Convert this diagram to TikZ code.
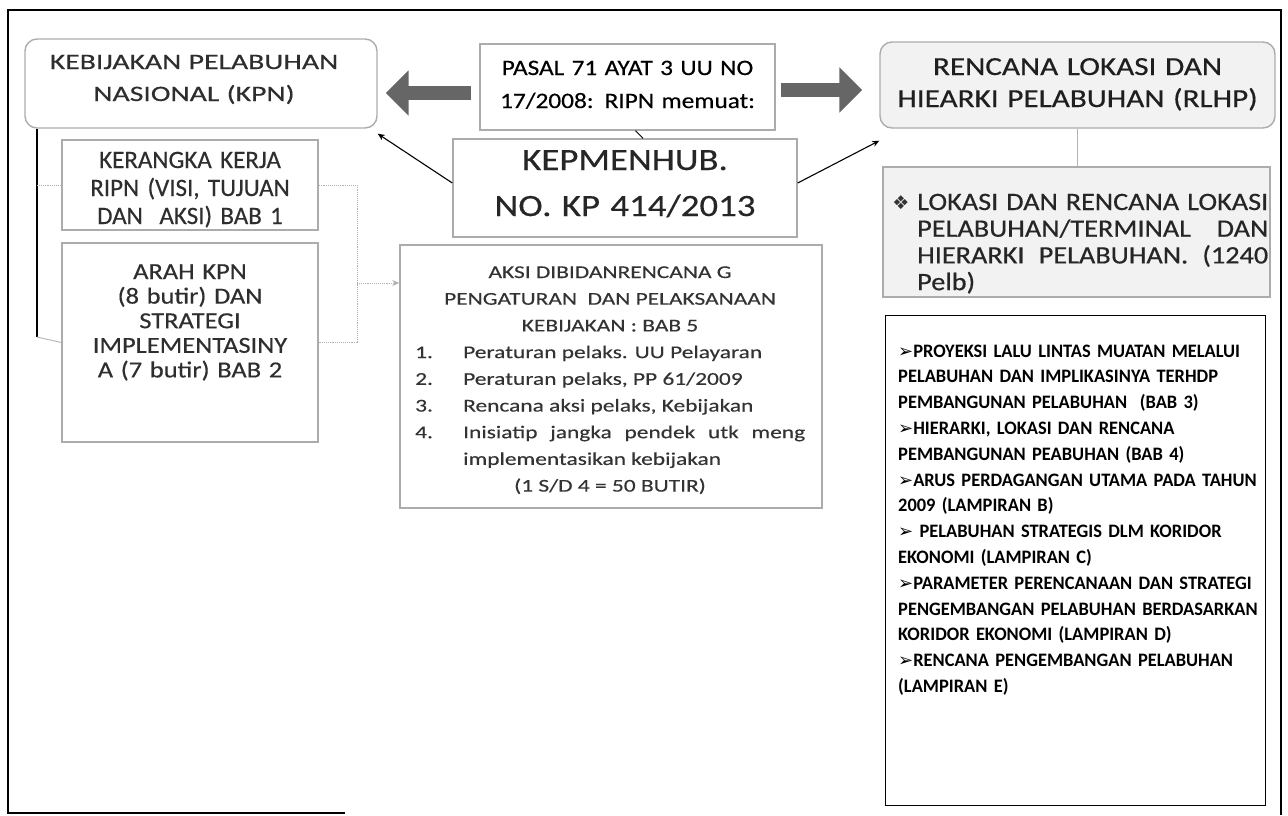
\documentclass[tikz,border=0pt]{standalone}
\usepackage{fontspec}
\setmainfont{Carlito}
\newfontfamily\djv{DejaVu Sans}
\newfontfamily\fKPN[FakeStretch=1.35,FakeBold=0.4]{Carlito}
\newfontfamily\fPAS[FakeStretch=1.15,FakeBold=0.4]{Carlito}
\newfontfamily\fKEP[FakeStretch=1.19,FakeBold=0.4]{Carlito}
\newfontfamily\fKER[FakeStretch=1.0,FakeBold=0.4]{Carlito}
\newfontfamily\fARA[FakeStretch=1.15,FakeBold=0.4]{Carlito}
\newfontfamily\fAKS[FakeStretch=1.3,FakeBold=0.3]{Carlito}
\newfontfamily\fRL[FakeStretch=1.2,FakeBold=0.5]{Carlito}
\newfontfamily\fLOK[FakeStretch=1.13,FakeBold=0.5]{Carlito}
\newfontfamily\fLST[FakeStretch=0.97]{Carlito}
\usetikzlibrary{arrows.meta}
\newcommand{\larr}{{\djv\mdseries\fontsize{18}{18}\selectfont ➢}}
\begin{document}
\begin{tikzpicture}[x=1pt,y=-1pt,
  gbox/.style={draw=gray!65, line width=1.4pt, inner sep=0pt},
  dotbox/.style={gbox, fill=black!5},
  kbox/.style={draw=black, line width=0.9pt, inner sep=0pt},
  txt/.style={inner sep=0pt, align=center, text=black!82},
  aks/.style={inner sep=0pt, text=black!80, font={\fAKS\fontsize{18}{18}\selectfont}},
  lok/.style={inner sep=0pt, text=black!85, font={\fLOK\fontsize{25}{25}\selectfont}},
  blockarrow/.style={line width=14pt, draw=black!60, -{Triangle[length=23pt,width=44pt]}},
  thinarrow/.style={line width=1.1pt, -{Stealth[length=7pt,width=6pt]}},
  greyline/.style={draw=gray!60, line width=0.9pt},
  dotline/.style={draw=gray!60, line width=0.9pt, densely dotted}
]
\useasboundingbox (0,0) rectangle (1288,815);
% outer frame
\draw[line width=1.5pt] (345,813) -- (8,813) -- (8,10) -- (1281,10) -- (1281,815);

% boxes
\node[gbox, rounded corners=12pt, minimum width=352pt, minimum height=89pt] (kpn) at (201,83.5) {};
\node[gbox, minimum width=295pt, minimum height=86pt] (pasal) at (627.5,87) {};
\node[gbox, minimum width=344pt, minimum height=98pt] (kep) at (625,188) {};
\node[gbox, minimum width=256pt, minimum height=90pt] (kerangka) at (190,185) {};
\node[gbox, minimum width=256pt, minimum height=199pt] (arah) at (190,342.5) {};
\node[gbox, minimum width=422pt, minimum height=263pt] (aksi) at (611,376.5) {};
\node[dotbox, rounded corners=12pt, minimum width=395pt, minimum height=86pt] (rlhp) at (1077.5,85) {};
\node[dotbox, minimum width=387pt, minimum height=130pt] (lokasi) at (1076.5,232) {};
\node[kbox, minimum width=380pt, minimum height=490pt] (lst) at (1075,560) {};

% texts
\node[txt, text width=345pt, anchor=base, font={\fKPN\fontsize{22}{32}\selectfont}] (kpnT) at (194,69) {KEBIJAKAN PELABUHAN\\NASIONAL (KPN)};
\node[txt, text width=290pt, anchor=base, text=black, font={\fPAS\fontsize{22}{33}\selectfont}] (pasalT) at (627.5,75) {PASAL 71 AYAT 3 UU NO\\17/2008: RIPN memuat:};
\node[txt, text width=340pt, anchor=base, text=black!85, font={\fKEP\fontsize{31}{46}\selectfont}] (kepT) at (625,170) {KEPMENHUB.\\NO. KP 414/2013};
\node[txt, text width=250pt, anchor=base, font={\fKER\fontsize{25}{28}\selectfont}] (kerT) at (190,168) {KERANGKA KERJA\\RIPN (VISI, TUJUAN\\DAN\ \ AKSI) BAB 1};
\node[txt, text width=250pt, anchor=base, font={\fARA\fontsize{23}{24.6}\selectfont}] (arahT) at (190,279) {ARAH KPN\\(8 butir)\ DAN\\STRATEGI\\IMPLEMENTASINY\\A (7 butir)\ BAB 2};

\node[aks, anchor=base] (a1) at (610,278) {AKSI DIBIDANRENCANA G};
\node[aks, anchor=base] (a2) at (610,304.7) {PENGATURAN\ \ DAN PELAKSANAAN};
\node[aks, anchor=base] (a3) at (610,331.4) {KEBIJAKAN : BAB 5};
\node[aks, anchor=base west] (n1) at (415,358.1) {1.};
\node[aks, anchor=base west] (t1) at (463,358.1) {Peraturan pelaks. UU Pelayaran};
\node[aks, anchor=base west] (n2) at (415,384.8) {2.};
\node[aks, anchor=base west] (t2) at (463,384.8) {Peraturan pelaks, PP 61/2009};
\node[aks, anchor=base west] (n3) at (415,411.5) {3.};
\node[aks, anchor=base west] (t3) at (463,411.5) {Rencana aksi pelaks, Kebijakan};
\node[aks, anchor=base west] (n4) at (415,438.2) {4.};
\node[aks, anchor=base west] (t4) at (463,438.2) {\makebox[342pt][s]{Inisiatip jangka pendek utk meng}};
\node[aks, anchor=base west] (t5) at (463,464.9) {implementasikan kebijakan};
\node[aks, anchor=base] (a9) at (610,491.6) {(1 S/D 4 = 50 BUTIR)};

\node[txt, text width=390pt, anchor=base, text=black!88, font={\fRL\fontsize{26}{32}\selectfont}] (rlhpT) at (1077.5,75) {RENCANA LOKASI DAN\\HIEARKI PELABUHAN (RLHP)};

\node[inner sep=0pt, anchor=base, text=black!80, font={\djv\fontsize{19}{19}\selectfont}] (bul) at (901,209) {❖};
\node[lok, anchor=base west] (l1) at (917,210) {\makebox[351pt][s]{LOKASI DAN RENCANA LOKASI}};
\node[lok, anchor=base west] (l2) at (917,236.7) {\makebox[351pt][s]{PELABUHAN/TERMINAL DAN}};
\node[lok, anchor=base west] (l3) at (917,263.4) {\makebox[351pt][s]{HIERARKI PELABUHAN. (1240}};
\node[lok, anchor=base west] (l4) at (917,290.1) {Pelb)};

\node[inner sep=0pt, anchor=base west, text width=375pt, align=left, text=black,
  font={\fLST\bfseries\fontsize{19}{25.8}\selectfont\spaceskip=0.12em plus 0.05em}] (lstT) at (898,357)
 {\larr PROYEKSI LALU LINTAS MUATAN MELALUI\\
  PELABUHAN DAN IMPLIKASINYA TERHDP\\
  PEMBANGUNAN PELABUHAN\ \ (BAB 3)\\
  \larr HIERARKI, LOKASI DAN RENCANA\\
  PEMBANGUNAN PEABUHAN (BAB 4)\\
  \larr ARUS PERDAGANGAN UTAMA PADA TAHUN\\
  2009 (LAMPIRAN B)\\
  \larr\ PELABUHAN STRATEGIS DLM KORIDOR\\
  EKONOMI (LAMPIRAN C)\\
  \larr PARAMETER PERENCANAAN DAN STRATEGI\\
  PENGEMBANGAN PELABUHAN BERDASARKAN\\
  KORIDOR EKONOMI (LAMPIRAN D)\\
  \larr RENCANA PENGEMBANGAN PELABUHAN\\
  (LAMPIRAN E)};

% connectors
\draw[blockarrow] ([xshift=-8pt,yshift=-6pt]pasal.west) -- ([xshift=8pt,yshift=-9.5pt]kpn.east);
\draw[blockarrow] ([xshift=5pt,yshift=-3pt]pasal.east) -- ([xshift=-17pt,yshift=-5pt]rlhp.west);
\draw[thinarrow] ([yshift=5pt]kep.west) -- ([yshift=-5pt]kpn.south east);
\draw[thinarrow] ([yshift=5pt]kep.east) -- ([yshift=-12pt]rlhp.south west);
\draw[line width=1pt] ([xshift=8pt]pasal.south) -- ([xshift=18pt]kep.north);
\draw[greyline] (rlhp.south) -- (rlhp.south |- lokasi.north);

\coordinate (brk) at (37,337);
\draw[line width=1.4pt] (kpn.south -| brk) -- (brk);
\draw[greyline] (brk) -- (arah.west);
\draw[dotline] (kerangka.west -| brk) -- (kerangka.west);
\coordinate (rbk) at (357,283);
\draw[dotline] (kerangka.east) -| (rbk) |- (arah.east);
\draw[dotline, -{Stealth[length=7pt,width=6pt]}] (rbk) -- (rbk -| aksi.west);
\end{tikzpicture}
\end{document}
